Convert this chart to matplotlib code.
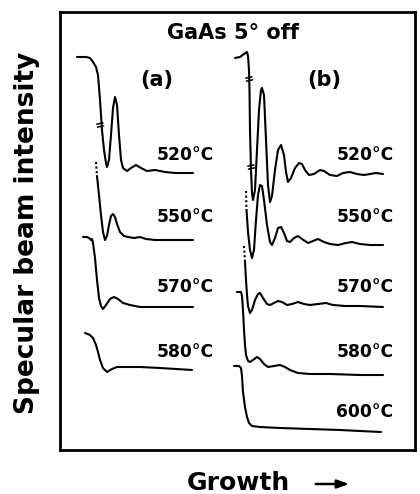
import numpy as np
import matplotlib
matplotlib.use("Agg")
import matplotlib.pyplot as plt

# ---------------- data (growth, intensity in arbitrary units) ----------------
# Panel (a)
a520_x = [17, 26, 30, 33, 36, 38, 40, 42, 44, 46, 47, 49, 51, 53, 55, 57, 59, 61, 63, 67, 71, 76, 81, 87, 95, 105, 115, 133]
a520_y = [393, 393, 392, 388, 383, 375, 350, 320, 300, 287, 283, 290, 315, 342, 353, 345, 315, 290, 282, 279, 282, 285, 282, 279, 280, 278, 277, 277]

a550_dot_x = [36, 37]
a550_dot_y = [288, 274]
a550_x = [37, 39, 41, 43, 45, 47, 49, 51, 53, 55, 57, 60, 64, 68, 74, 80, 86, 95, 110, 133]
a550_y = [274, 255, 235, 218, 210, 214, 225, 234, 236, 233, 226, 218, 214, 213, 212, 213, 211, 210, 210, 210]

a570_x = [23, 27, 29, 31, 32, 33, 35, 37, 39, 41, 43, 46, 50, 54, 58, 63, 70, 80, 100, 133]
a570_y = [213, 213, 212, 210, 211, 207, 192, 170, 152, 144, 141, 145, 151, 153, 151, 147, 145, 143, 143, 143]

a580_x = [25, 30, 33, 36, 38, 40, 43, 47, 52, 57, 67, 80, 100, 132]
a580_y = [117, 115, 112, 105, 98, 90, 82, 78, 81, 83, 83, 83, 82, 80]

# Panel (b)
b520_x = [175, 180, 184, 187, 188, 189, 189.5, 190, 191, 192, 193, 195, 197, 199, 201, 202, 204, 206, 208, 210,
          212, 215, 218, 221, 224, 226, 228, 231, 235, 239, 242, 245, 249, 254, 260, 264, 270, 277, 283, 290,
          297, 304, 310, 316, 323]
b520_y = [392, 393, 396, 398, 394, 380, 360, 320, 280, 257, 250, 260, 300, 340, 360, 362, 355, 310, 265, 248,
          254, 280, 300, 305, 295, 278, 268, 272, 282, 287, 286, 280, 275, 276, 280, 279, 275, 274, 277, 278,
          276, 275, 276, 277, 276]

b550_dot_x = [186, 186.5]
b550_dot_y = [259, 240]
b550_x = [186.5, 188, 190, 192, 194, 196, 198, 200, 202, 204, 207, 210, 212, 215, 218, 221, 224, 227, 230, 234,
          238, 242, 248, 253, 258, 264, 270, 278, 286, 292, 300, 310, 323]
b550_y = [240, 218, 200, 192, 200, 230, 255, 265, 264, 250, 225, 208, 205, 212, 222, 223, 217, 209, 208, 212,
          214, 211, 207, 209, 211, 208, 206, 205, 207, 208, 206, 205, 205]

b570_dot_x = [184, 185]
b570_dot_y = [204, 188]
b570_x = [185, 186, 187, 188, 190, 192, 195, 198, 200, 203, 207, 210, 214, 218, 222, 227, 232, 238, 244, 250,
          258, 266, 273, 285, 300, 323]
b570_y = [188, 170, 155, 144, 137, 140, 150, 156, 157, 152, 146, 145, 147, 149, 148, 145, 146, 148, 146, 145,
          146, 147, 145, 144, 144, 143]

b580_x = [177, 181, 182, 183, 184, 185, 186, 188, 190, 193, 197, 200, 204, 208, 214, 220, 225, 230, 238, 250,
          270, 300, 323]
b580_y = [158, 158, 154, 140, 120, 105, 95, 89, 88, 90, 93, 91, 86, 83, 84, 85, 83, 80, 77, 76, 76, 75, 75]

b600_x = [174, 179, 181, 182, 183, 185, 187, 189, 192, 200, 220, 250, 280, 300, 321]
b600_y = [84, 84, 82, 74, 58, 43, 33, 27, 24, 23, 22, 21, 20, 19, 18]

# break marks on the 520 °C traces
break_x = [40, 189, 191.5]
break_y = [324, 370, 282]

# temperature labels
labels_a = ["520°C", "550°C", "570°C", "580°C"]
labels_b = ["520°C", "550°C", "570°C", "580°C", "600°C"]
label_a_y = [295, 233, 163, 98]
label_b_y = [295, 233, 163, 98, 38]

# ---------------- figure ----------------
W, H = 420, 494
fig = plt.figure(figsize=(W / 100, H / 100), dpi=100)
fig.patch.set_facecolor("white")

ax = fig.add_axes([60 / W, 44 / H, 355 / W, 438 / H])
ax.set_xlim(0, 355)
ax.set_ylim(0, 438)
ax.set_xticks([])
ax.set_yticks([])
for s in ax.spines.values():
    s.set_linewidth(2.0)
    s.set_color("black")

lw = 1.5
kw = dict(color="black", lw=lw, solid_joinstyle="round", solid_capstyle="round")
dkw = dict(color="black", lw=lw, linestyle=(0, (1, 1.2)))

# panel (a)
ax.plot(a520_x, a520_y, **kw)
ax.plot(a550_dot_x, a550_dot_y, **dkw)
ax.plot(a550_x, a550_y, **kw)
ax.plot(a570_x, a570_y, **kw)
ax.plot(a580_x, a580_y, **kw)

# panel (b)
ax.plot(b520_x, b520_y, **kw)
ax.plot(b550_dot_x, b550_dot_y, **dkw)
ax.plot(b550_x, b550_y, **kw)
ax.plot(b570_dot_x, b570_dot_y, **dkw)
ax.plot(b570_x, b570_y, **kw)
ax.plot(b580_x, b580_y, **kw)
ax.plot(b600_x, b600_y, **kw)

for bx, by in zip(break_x, break_y):
    ax.text(bx, by, "=", fontsize=8.5, fontweight="bold", ha="center", va="center",
            rotation=12, color="black")

lab_fs = 12.3
for t, y in zip(labels_a, label_a_y):
    ax.text(125, y, t, fontsize=lab_fs, fontweight="bold", ha="center", va="center")
for t, y in zip(labels_b, label_b_y):
    ax.text(305, y, t, fontsize=lab_fs, fontweight="bold", ha="center", va="center")

# panel titles
fig.text(233 / W, 1 - 33 / H, "GaAs 5° off", fontsize=15, fontweight="bold",
         ha="center", va="center")
fig.text(157 / W, 1 - 80 / H, "(a)", fontsize=15, fontweight="bold", ha="center", va="center")
fig.text(324 / W, 1 - 80 / H, "(b)", fontsize=15, fontweight="bold", ha="center", va="center")

# axis labels
fig.text(27 / W, 1 - 233 / H, "Specular beam intensity", fontsize=19, fontweight="bold",
         rotation=90, ha="center", va="center")
fig.text(238 / W, 1 - 483 / H, "Growth", fontsize=18, fontweight="bold",
         ha="center", va="center")
fig.patches.append(matplotlib.patches.FancyArrowPatch(
    (313 / W, 1 - 484 / H), (352 / W, 1 - 484 / H), transform=fig.transFigure,
    arrowstyle="-|>,head_length=7,head_width=2.5", mutation_scale=1, lw=1.8, color="black"))

fig.savefig("out.png", dpi=100, facecolor="white")
